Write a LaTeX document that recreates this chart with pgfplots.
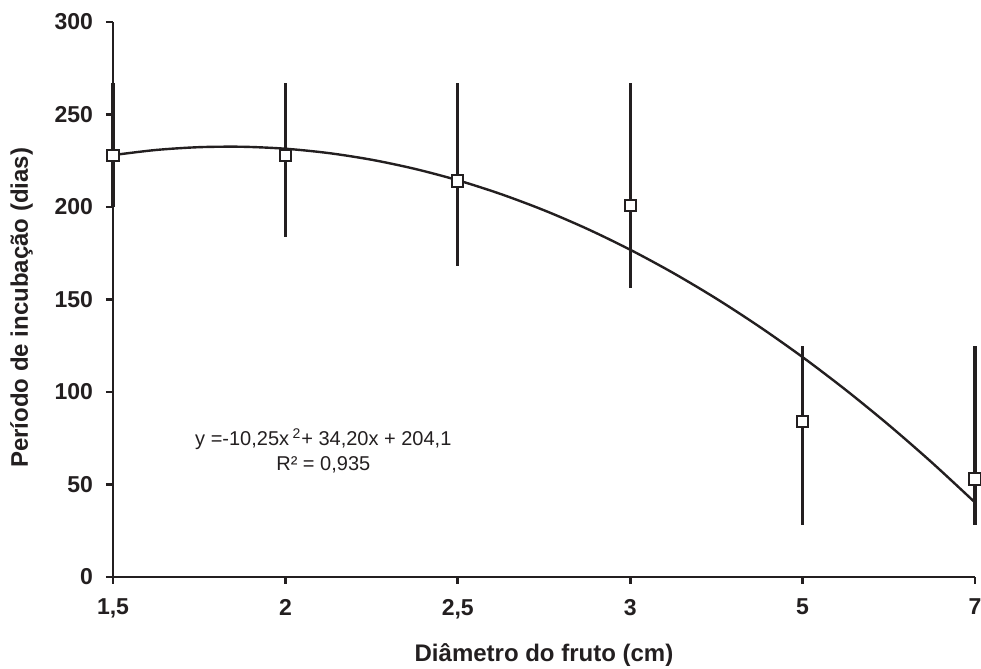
\documentclass[border=0pt]{standalone}
\usepackage{pgfplots}
\pgfplotsset{compat=1.18}
\usepackage{fontspec}
\setmainfont{Liberation Sans}
\definecolor{ink}{RGB}{35,31,32}

% diametro do fruto (categoria 1..6), periodo medio, desvio acima, desvio abaixo
\begin{document}
\begin{tikzpicture}
\begin{axis}[
    name=ax,
    scale only axis,
    width=431pt, height=277.5pt,
    xmin=1, xmax=6,
    ymin=0, ymax=300,
    axis lines=left,
    axis line style={-, line width=1.4pt, ink},
    every tick/.style={line width=1.4pt, ink},
    tick align=outside,
    major tick length=3.5pt,
    xtick={1,2,3,4,5,6},
    xticklabels={{1,5},2,{2,5},3,5,7},
    ytick={0,50,100,150,200,250,300},
    /pgf/number format/assume math mode=true,
    ticklabel style={font=\bfseries\fontsize{11.5}{13}\selectfont, text=ink},
    xticklabel style={yshift=-4pt},
    yticklabel style={xshift=-3pt},
    xlabel={Diâmetro do fruto (cm)},
    ylabel={Período de incubação (dias)},
    every axis x label/.style={at={(axis description cs:0.5,-0.1405)}, anchor=center,
        font=\bfseries\fontsize{12}{14}\selectfont, text=ink},
    every axis y label/.style={at={(axis description cs:-0.106,0.485)}, rotate=90, anchor=center,
        font=\bfseries\fontsize{12}{14}\selectfont, text=ink},
    clip=false,
]
% linha de tendencia
\addplot[ink, line width=1.2pt, smooth, mark=none] coordinates {
    (1,228.05) (1.25,230.83) (1.5,232.34) (1.75,232.56) (2,231.5)
    (2.25,229.16) (2.5,225.54) (2.75,220.63) (3,214.45) (3.25,206.98)
    (3.5,198.24) (3.75,188.21) (4,176.9) (4.25,164.31) (4.5,150.44)
    (4.75,135.28) (5,118.85) (5.25,101.13) (5.5,82.14) (5.75,61.86) (6,40.3)
};
% medias com barras de erro
\addplot[ink, only marks, mark=square*, mark size=2.8pt,
    mark options={fill=white, draw=ink, line width=1pt},
    error bars/.cd, y dir=both, y explicit,
    error mark=none, error bar style={line width=1.6pt, ink}]
    coordinates {
    (1,228) +- (0,39) -= (0,28)
    (2,228) +- (0,39) -= (0,44)
    (3,214) +- (0,53) -= (0,46)
    (4,201) +- (0,66) -= (0,45)
    (5,84)  +- (0,41) -= (0,56)
    (6,53)  +- (0,72) -= (0,25)
};
\node[font=\fontsize{10}{12.5}\selectfont, text=ink, align=center]
    at (axis cs:2.22,68) {y =-10,25x\,\textsuperscript{2}+ 34,20x + 204,1\\R² = 0,935};
\end{axis}
\pgfresetboundingbox
\path ([shift={(-56.5pt,-46pt)}]ax.south west) rectangle ([shift={(3pt,11pt)}]ax.north east);
\end{tikzpicture}
\end{document}
